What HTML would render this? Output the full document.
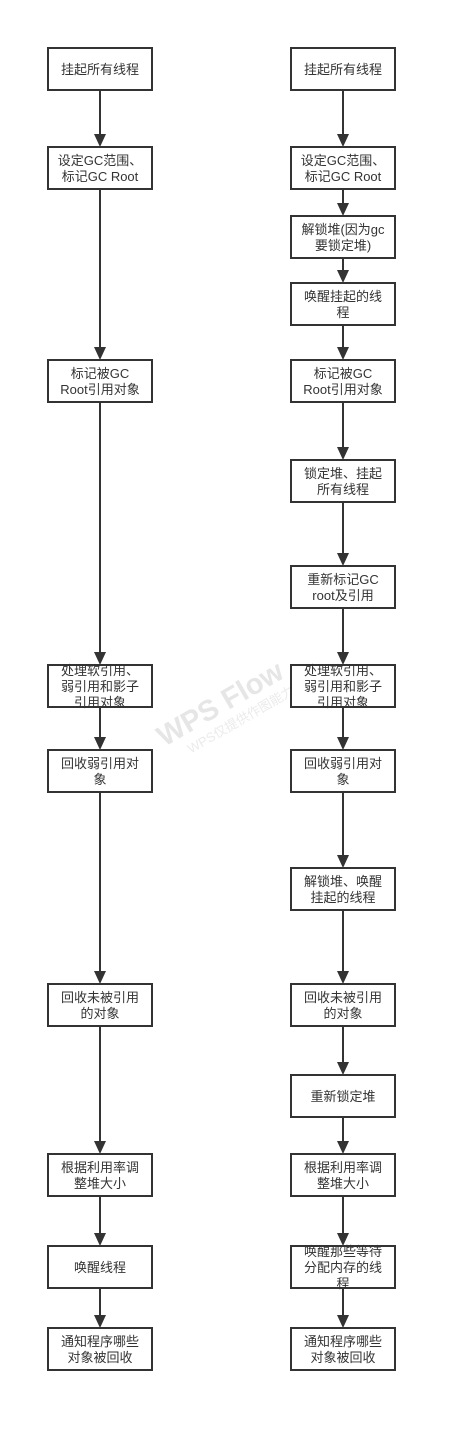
<!DOCTYPE html>
<html><head><meta charset="utf-8"><style>
html,body{margin:0;padding:0;background:#fff;width:457px;height:1432px;overflow:hidden}
text{font-family:"Liberation Sans","Noto Sans CJK SC",sans-serif;font-size:13px;fill:#333;text-anchor:middle}
</style></head><body>
<svg width="457" height="1432" viewBox="0 0 457 1432" xmlns="http://www.w3.org/2000/svg">
<g transform="translate(225,712) rotate(-30)">
<text x="0" y="0" style="font-size:29px;font-weight:bold;fill:#e6e6e6">WPS Flow</text>
<text x="10" y="19" style="font-size:13px;fill:#ebebeb">WPS仅提供作图能力</text>
</g>
<g stroke="#333" stroke-width="2" fill="none">
<line x1="100" y1="90" x2="100" y2="137"/>
<line x1="100" y1="189" x2="100" y2="350"/>
<line x1="100" y1="402" x2="100" y2="655"/>
<line x1="100" y1="707" x2="100" y2="740"/>
<line x1="100" y1="792" x2="100" y2="974"/>
<line x1="100" y1="1026" x2="100" y2="1144"/>
<line x1="100" y1="1196" x2="100" y2="1236"/>
<line x1="100" y1="1288" x2="100" y2="1318"/>
<line x1="343" y1="90" x2="343" y2="137"/>
<line x1="343" y1="189" x2="343" y2="206"/>
<line x1="343" y1="258" x2="343" y2="273"/>
<line x1="343" y1="325" x2="343" y2="350"/>
<line x1="343" y1="402" x2="343" y2="450"/>
<line x1="343" y1="502" x2="343" y2="556"/>
<line x1="343" y1="608" x2="343" y2="655"/>
<line x1="343" y1="707" x2="343" y2="740"/>
<line x1="343" y1="792" x2="343" y2="858"/>
<line x1="343" y1="910" x2="343" y2="974"/>
<line x1="343" y1="1026" x2="343" y2="1065"/>
<line x1="343" y1="1117" x2="343" y2="1144"/>
<line x1="343" y1="1196" x2="343" y2="1236"/>
<line x1="343" y1="1288" x2="343" y2="1318"/>
</g>
<g fill="#333">
<path d="M94,134 L106,134 L100,147 Z"/><path d="M94,347 L106,347 L100,360 Z"/><path d="M94,652 L106,652 L100,665 Z"/><path d="M94,737 L106,737 L100,750 Z"/><path d="M94,971 L106,971 L100,984 Z"/><path d="M94,1141 L106,1141 L100,1154 Z"/><path d="M94,1233 L106,1233 L100,1246 Z"/><path d="M94,1315 L106,1315 L100,1328 Z"/>
<path d="M337,134 L349,134 L343,147 Z"/><path d="M337,203 L349,203 L343,216 Z"/><path d="M337,270 L349,270 L343,283 Z"/><path d="M337,347 L349,347 L343,360 Z"/><path d="M337,447 L349,447 L343,460 Z"/><path d="M337,553 L349,553 L343,566 Z"/><path d="M337,652 L349,652 L343,665 Z"/><path d="M337,737 L349,737 L343,750 Z"/><path d="M337,855 L349,855 L343,868 Z"/><path d="M337,971 L349,971 L343,984 Z"/><path d="M337,1062 L349,1062 L343,1075 Z"/><path d="M337,1141 L349,1141 L343,1154 Z"/><path d="M337,1233 L349,1233 L343,1246 Z"/><path d="M337,1315 L349,1315 L343,1328 Z"/>
</g>
<g stroke="#333" stroke-width="2" fill="#fff">
<rect x="48" y="48" width="104" height="42"/><rect x="48" y="147" width="104" height="42"/><rect x="48" y="360" width="104" height="42"/><rect x="48" y="665" width="104" height="42"/><rect x="48" y="750" width="104" height="42"/><rect x="48" y="984" width="104" height="42"/><rect x="48" y="1154" width="104" height="42"/><rect x="48" y="1246" width="104" height="42"/><rect x="48" y="1328" width="104" height="42"/>
<rect x="291" y="48" width="104" height="42"/><rect x="291" y="147" width="104" height="42"/><rect x="291" y="216" width="104" height="42"/><rect x="291" y="283" width="104" height="42"/><rect x="291" y="360" width="104" height="42"/><rect x="291" y="460" width="104" height="42"/><rect x="291" y="566" width="104" height="42"/><rect x="291" y="665" width="104" height="42"/><rect x="291" y="750" width="104" height="42"/><rect x="291" y="868" width="104" height="42"/><rect x="291" y="984" width="104" height="42"/><rect x="291" y="1075" width="104" height="42"/><rect x="291" y="1154" width="104" height="42"/><rect x="291" y="1246" width="104" height="42"/><rect x="291" y="1328" width="104" height="42"/>
</g>
<g>
<text x="100" y="74">挂起所有线程</text>
<text x="100" y="165">设定GC范围、</text><text x="100" y="181">标记GC Root</text>
<text x="100" y="378">标记被GC</text><text x="100" y="394">Root引用对象</text>
<text x="100" y="675">处理软引用、</text><text x="100" y="691">弱引用和影子</text><text x="100" y="707">引用对象</text>
<text x="100" y="768">回收弱引用对</text><text x="100" y="784">象</text>
<text x="100" y="1002">回收未被引用</text><text x="100" y="1018">的对象</text>
<text x="100" y="1172">根据利用率调</text><text x="100" y="1188">整堆大小</text>
<text x="100" y="1272">唤醒线程</text>
<text x="100" y="1346">通知程序哪些</text><text x="100" y="1362">对象被回收</text>
<text x="343" y="74">挂起所有线程</text>
<text x="343" y="165">设定GC范围、</text><text x="343" y="181">标记GC Root</text>
<text x="343" y="234">解锁堆(因为gc</text><text x="343" y="250">要锁定堆)</text>
<text x="343" y="301">唤醒挂起的线</text><text x="343" y="317">程</text>
<text x="343" y="378">标记被GC</text><text x="343" y="394">Root引用对象</text>
<text x="343" y="478">锁定堆、挂起</text><text x="343" y="494">所有线程</text>
<text x="343" y="584">重新标记GC</text><text x="343" y="600">root及引用</text>
<text x="343" y="675">处理软引用、</text><text x="343" y="691">弱引用和影子</text><text x="343" y="707">引用对象</text>
<text x="343" y="768">回收弱引用对</text><text x="343" y="784">象</text>
<text x="343" y="886">解锁堆、唤醒</text><text x="343" y="902">挂起的线程</text>
<text x="343" y="1002">回收未被引用</text><text x="343" y="1018">的对象</text>
<text x="343" y="1101">重新锁定堆</text>
<text x="343" y="1172">根据利用率调</text><text x="343" y="1188">整堆大小</text>
<text x="343" y="1256">唤醒那些等待</text><text x="343" y="1272">分配内存的线</text><text x="343" y="1288">程</text>
<text x="343" y="1346">通知程序哪些</text><text x="343" y="1362">对象被回收</text>
</g>
</svg>
</body></html>
